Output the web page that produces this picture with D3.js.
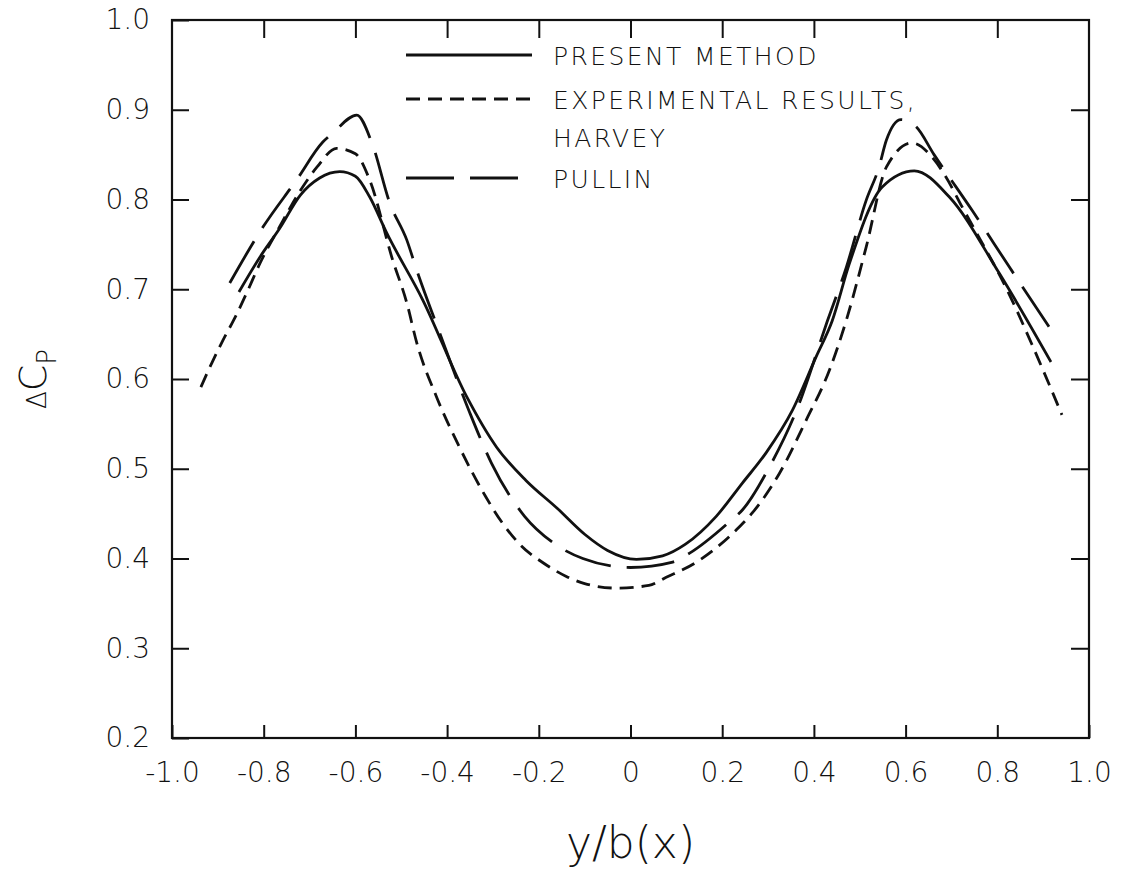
<!DOCTYPE html>
<head>
  <meta charset="utf-8">
  <script src="https://d3js.org/d3.v7.min.js"></script>
  <style>
    body { margin: 0; background: #fff; }
    svg { display: block; }
    text { font-family: "DejaVu Sans", Arial; fill: #111; }
    .tick text { font-size: 28px; font-weight: 300; }
    .tick line { stroke: #111; stroke-width: 2; }
    .legend text { font-size: 25px; font-weight: 300; letter-spacing: 2.4px; }
  </style>
</head>
<body>
  <div id="chart"></div>
  <script>

  // values (y/b(x) vs delta Cp)
  var presentX = [-0.854,-0.808,-0.765,-0.72,-0.678,-0.634,-0.60,-0.569,-0.532,-0.453,-0.357,-0.292,-0.228,-0.16,-0.10,-0.05,0.013,0.07,0.12,0.187,0.244,0.296,0.353,0.405,0.44,0.477,0.549,0.619,0.695,0.804,0.917]
  var presentY = [0.697,0.736,0.768,0.805,0.824,0.831,0.826,0.803,0.763,0.688,0.580,0.524,0.487,0.456,0.427,0.409,0.399,0.403,0.416,0.447,0.484,0.518,0.565,0.625,0.665,0.728,0.814,0.832,0.803,0.718,0.619]

  var harveyX = [-0.937,-0.913,-0.889,-0.863,-0.837,-0.808,-0.765,-0.72,-0.684,-0.641,-0.60,-0.569,-0.519,-0.488,-0.466,-0.423,-0.373,-0.316,-0.28,-0.24,-0.19,-0.14,-0.10,-0.03,0.04,0.078,0.144,0.231,0.266,0.325,0.383,0.434,0.471,0.514,0.558,0.614,0.658,0.688,0.723,0.832,0.876,0.941]
  var harveyY = [0.591,0.618,0.643,0.668,0.696,0.729,0.770,0.810,0.836,0.857,0.851,0.822,0.733,0.685,0.640,0.580,0.524,0.469,0.440,0.415,0.395,0.380,0.372,0.367,0.370,0.379,0.396,0.432,0.451,0.495,0.554,0.610,0.666,0.747,0.836,0.863,0.847,0.825,0.792,0.688,0.638,0.560]

  var pullinX = [-0.874,-0.802,-0.728,-0.671,-0.649,-0.597,-0.564,-0.525,-0.488,-0.466,-0.416,-0.351,-0.303,-0.231,-0.17,-0.104,0.0,0.092,0.129,0.216,0.244,0.303,0.362,0.429,0.471,0.514,0.542,0.558,0.590,0.623,0.662,0.745,0.826,0.913]
  var pullinY = [0.707,0.769,0.822,0.864,0.874,0.894,0.863,0.796,0.755,0.721,0.651,0.563,0.506,0.447,0.418,0.400,0.390,0.396,0.406,0.441,0.454,0.502,0.565,0.664,0.725,0.799,0.836,0.866,0.889,0.881,0.850,0.788,0.725,0.658]

  var xTicks = [-1.0,-0.8,-0.6,-0.4,-0.2,0,0.2,0.4,0.6,0.8,1.0]
  var yTicks = [0.2,0.3,0.4,0.5,0.6,0.7,0.8,0.9,1.0]

  var legendNames = ["PRESENT METHOD", "EXPERIMENTAL RESULTS,", "PULLIN"]

  var margin = {top: 20, right: 35, bottom: 140, left: 172}
    , width = 1124 - margin.left - margin.right
    , height = 878 - margin.top - margin.bottom

  var x = d3.scaleLinear().domain([-1, 1]).range([0, width])
  var y = d3.scaleLinear().domain([0.2, 1.0]).range([height, 0])

  var svg = d3.select("#chart").append("svg")
      .attr("width", 1124)
      .attr("height", 878)
    .append("g")
      .attr("transform", "translate(" + margin.left + "," + margin.top + ")")

  var fmtX = function(d) { return d === 0 ? "0" : d.toFixed(1) }
  var fmtY = function(d) { return d.toFixed(1) }

  // axes, ticks pointing inward
  svg.append("g")
      .attr("transform", "translate(0," + height + ")")
      .call(d3.axisBottom(x).tickValues(xTicks).tickFormat(fmtX).tickSizeInner(-13).tickSizeOuter(0).tickPadding(24))
  svg.append("g")
      .call(d3.axisTop(x).tickValues(xTicks.slice(1, -1)).tickFormat("").tickSizeInner(-18).tickSizeOuter(0))
  svg.append("g")
      .call(d3.axisLeft(y).tickValues(yTicks).tickFormat(fmtY).tickSizeInner(-17).tickSizeOuter(0).tickPadding(22))
  svg.append("g")
      .attr("transform", "translate(" + width + ",0)")
      .call(d3.axisRight(y).tickValues(yTicks.slice(1, -1)).tickFormat("").tickSizeInner(-18).tickSizeOuter(0))

  svg.selectAll(".domain").remove()
  svg.selectAll(".tick text").attr("fill", "#111")

  svg.append("rect")
      .attr("width", width)
      .attr("height", height)
      .style("fill", "none")
      .style("stroke", "#111")
      .style("stroke-width", 2.2)

  var line = d3.line()
      .x(function(d) { return x(d[0]) })
      .y(function(d) { return y(d[1]) })
      .curve(d3.curveMonotoneX)

  var series = [
    {xs: presentX, ys: presentY, dash: null},
    {xs: harveyX, ys: harveyY, dash: "14,8"},
    {xs: pullinX, ys: pullinY, dash: "48,16"}
  ]

  svg.selectAll(".curve")
      .data(series)
    .enter().append("path")
      .attr("class", "curve")
      .attr("d", function(s) { return line(d3.zip(s.xs, s.ys)) })
      .style("fill", "none")
      .style("stroke", "#111")
      .style("stroke-width", 2.8)
      .style("stroke-dasharray", function(s) { return s.dash })

  // legend
  var legend = svg.append("g").attr("class", "legend")
  var rowsY = [35, 79, 158]
  legend.selectAll("line")
      .data(series)
    .enter().append("line")
      .attr("x1", 234).attr("x2", 360)
      .attr("y1", function(d, i) { return rowsY[i] })
      .attr("y2", function(d, i) { return rowsY[i] })
      .style("stroke", "#111")
      .style("stroke-width", 2.8)
      .style("stroke-dasharray", function(s) { return s.dash })
  legend.selectAll("text.name")
      .data(legendNames)
    .enter().append("text")
      .attr("class", "name")
      .attr("x", 381)
      .attr("y", function(d, i) { return rowsY[i] + 10 })
      .text(function(d) { return d })
  legend.append("text")
      .attr("x", 381)
      .attr("y", 127)
      .text("HARVEY")

  // axis titles
  svg.append("text")
      .attr("x", x(0))
      .attr("y", height + 120)
      .style("text-anchor", "middle")
      .style("font-size", "44px")
      .style("font-weight", 300)
      .text("y/b(x)")

  var yTitle = svg.append("text")
      .attr("transform", "translate(" + (-126) + "," + y(0.6) + ") rotate(-90)")
      .style("text-anchor", "middle")
      .style("font-size", "38px")
      .style("font-weight", 300)
  yTitle.append("tspan").style("font-size", "26px").text("Δ")
  yTitle.append("tspan").text("C")
  yTitle.append("tspan").attr("dy", 10).style("font-size", "26px").text("P")

  </script>
</body>
